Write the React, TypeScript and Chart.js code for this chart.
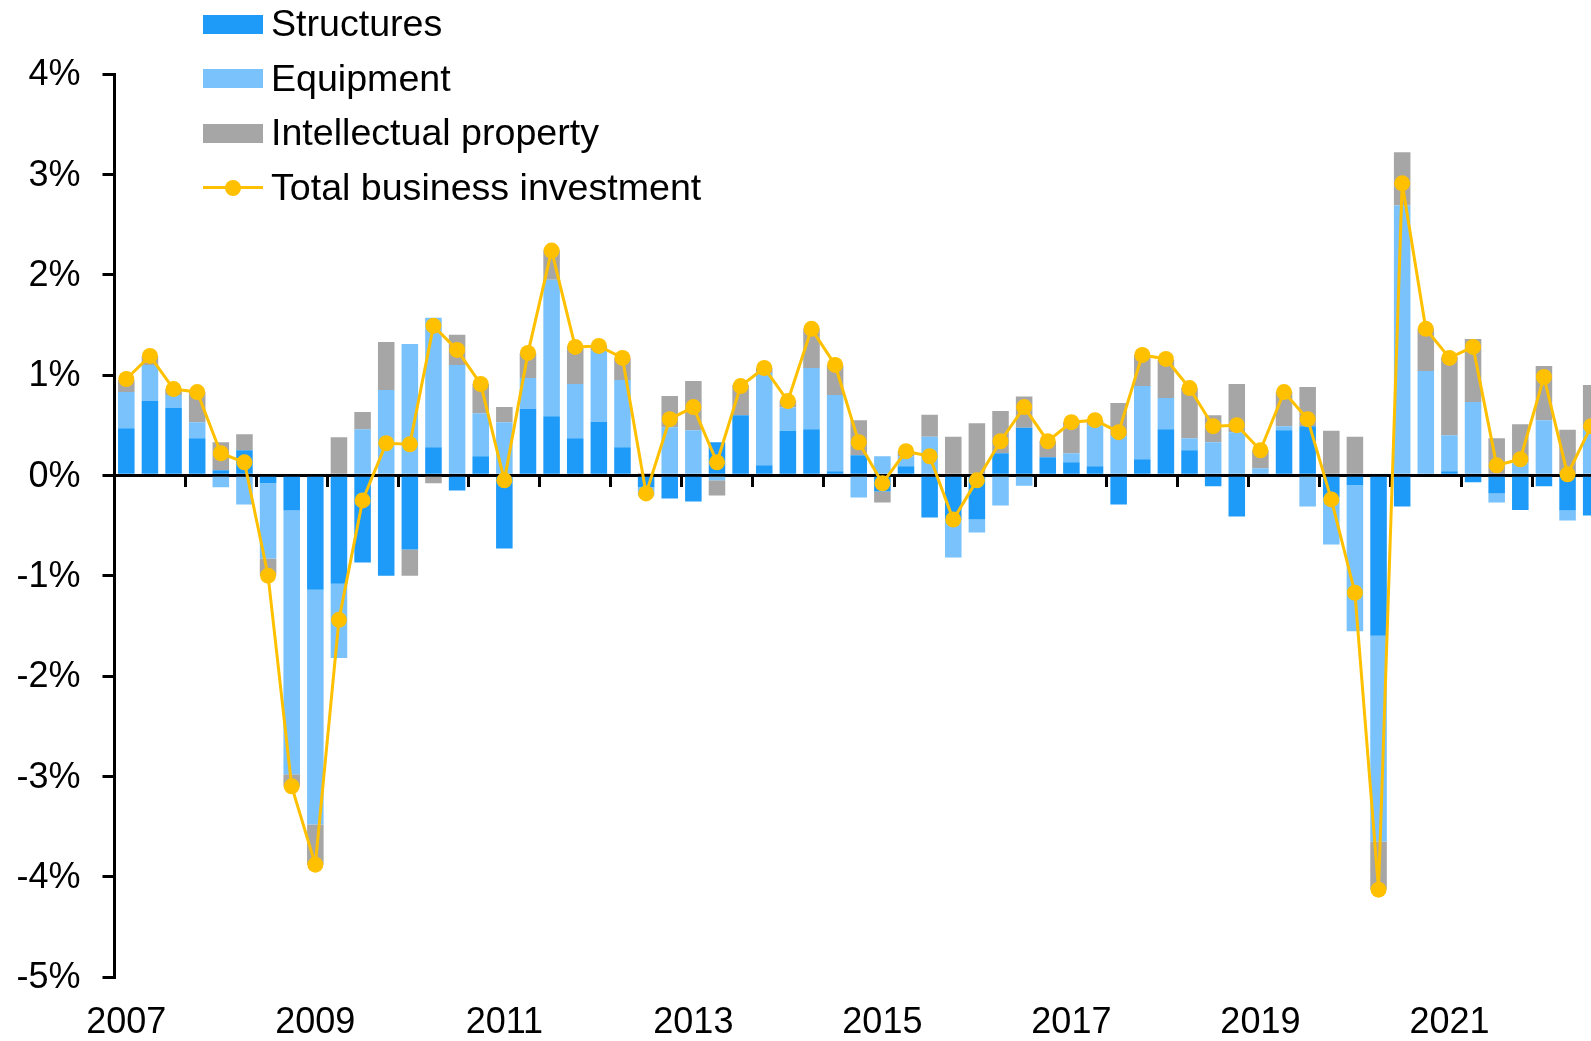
import React, { useEffect, useRef } from 'react';
import { Chart, registerables } from 'chart.js';

Chart.register(...registerables);

// ---- Data (quarter-on-quarter contributions, %) ----
const quarters = [
  '2007 Q1', '2007 Q2', '2007 Q3', '2007 Q4',
  '2008 Q1', '2008 Q2', '2008 Q3', '2008 Q4',
  '2009 Q1', '2009 Q2', '2009 Q3', '2009 Q4',
  '2010 Q1', '2010 Q2', '2010 Q3', '2010 Q4',
  '2011 Q1', '2011 Q2', '2011 Q3', '2011 Q4',
  '2012 Q1', '2012 Q2', '2012 Q3', '2012 Q4',
  '2013 Q1', '2013 Q2', '2013 Q3', '2013 Q4',
  '2014 Q1', '2014 Q2', '2014 Q3', '2014 Q4',
  '2015 Q1', '2015 Q2', '2015 Q3', '2015 Q4',
  '2016 Q1', '2016 Q2', '2016 Q3', '2016 Q4',
  '2017 Q1', '2017 Q2', '2017 Q3', '2017 Q4',
  '2018 Q1', '2018 Q2', '2018 Q3', '2018 Q4',
  '2019 Q1', '2019 Q2', '2019 Q3', '2019 Q4',
  '2020 Q1', '2020 Q2', '2020 Q3', '2020 Q4',
  '2021 Q1', '2021 Q2', '2021 Q3', '2021 Q4',
  '2022 Q1', '2022 Q2', '2022 Q3',
];

const yearTickLabels = ['2007', '2009', '2011', '2013', '2015', '2017', '2019', '2021'];

const structures = [
  0.47, 0.74, 0.67, 0.37,
  0.05, 0.25, -0.08, -0.35,
  -1.14, -1.08, -0.87, -1.0,
  -0.74, 0.28, -0.15, 0.19,
  -0.73, 0.66, 0.59, 0.37,
  0.535, 0.28, -0.12, -0.23,
  -0.26, 0.33, 0.6, 0.1,
  0.445, 0.46, 0.04, 0.2,
  -0.16, 0.09, -0.42, -0.44,
  -0.44, 0.22, 0.475, 0.18,
  0.13, 0.09, -0.29, 0.16,
  0.46, 0.25, -0.11, -0.41,
  0.0, 0.45, 0.49, -0.22,
  -0.1, -1.6, -0.31, 0.0,
  0.04, -0.07, -0.18, -0.345,
  -0.11, -0.35, -0.4,
];

const equipment = [
  0.36, 0.36, 0.13, 0.16,
  -0.12, -0.29, -0.75, -2.63,
  -2.34, -0.74, 0.46, 0.85,
  1.31, 1.29, 1.1, 0.43,
  0.53, 0.31, 1.36, 0.54,
  0.71, 0.67, -0.08, 0.48,
  0.45, -0.05, 0.0, 0.92,
  0.23, 0.61, 0.76, -0.22,
  0.19, 0.1, 0.385, -0.38,
  -0.13, -0.3, -0.105, 0.0,
  0.09, 0.41, 0.39, 0.73,
  0.31, 0.12, 0.33, 0.43,
  0.07, 0.04, -0.31, -0.47,
  -1.455, -2.05, 2.69, 1.04,
  0.36, 0.73, -0.09, 0.12,
  0.55, -0.1, 0.46,
];

const intellectualProperty = [
  0.12, 0.09, 0.06, 0.3,
  0.28, 0.16, -0.17, -0.12,
  -0.4, 0.38, 0.17, 0.48,
  -0.26, -0.08, 0.3, 0.29,
  0.15, 0.25, 0.29, 0.38,
  0.05, 0.22, 0.02, 0.31,
  0.49, -0.15, 0.3, 0.05,
  0.07, 0.39, 0.3, 0.35,
  -0.11, 0.05, 0.22, 0.385,
  0.52, 0.42, 0.31, 0.16,
  0.31, 0.05, 0.33, 0.31,
  0.38, 0.5, 0.27, 0.48,
  0.18, 0.34, 0.39, 0.445,
  0.385, -0.48, 0.53, 0.42,
  0.78, 0.63, 0.37, 0.39,
  0.54, 0.455, 0.44,
];

const totalInvestment = [
  0.96, 1.19, 0.86, 0.83,
  0.22, 0.13, -1.0, -3.1,
  -3.88, -1.44, -0.25, 0.32,
  0.31, 1.49, 1.25, 0.91,
  -0.05, 1.22, 2.24, 1.28,
  1.29, 1.17, -0.18, 0.56,
  0.68, 0.13, 0.89, 1.07,
  0.74, 1.46, 1.1, 0.33,
  -0.08, 0.24, 0.19, -0.44,
  -0.05, 0.34, 0.68, 0.34,
  0.53, 0.55, 0.43, 1.2,
  1.16, 0.87, 0.49, 0.5,
  0.25, 0.83, 0.56, -0.24,
  -1.17, -4.13, 2.91, 1.46,
  1.17, 1.28, 0.1, 0.16,
  0.98, 0.01, 0.49,
];

const seriesNames = ['Structures', 'Equipment', 'Intellectual property', 'Total business investment'];

// ---- Styles ----
const COLOR_STRUCTURES = '#1E9BF8';
const COLOR_EQUIPMENT = '#79C2FB';
const COLOR_IP = '#A6A6A6';
const COLOR_TOTAL = '#FFC000';
const FONT = "'Liberation Sans', Arial, sans-serif";

export default function App() {
  const canvasRef = useRef<HTMLCanvasElement>(null);

  useEffect(() => {
    const canvas = canvasRef.current;
    if (!canvas) return;
    Chart.defaults.font.family = FONT;
    Chart.defaults.color = '#000';

    const barCommon = {
      stack: 'parts',
      order: 1,
      categoryPercentage: 1,
      barPercentage: 0.7,
      borderWidth: 0,
      xAxisID: 'x',
      yAxisID: 'y',
    };

    const chart = new Chart(canvas, {
      type: 'bar',
      data: {
        labels: quarters,
        datasets: [
          {
            type: 'line',
            label: seriesNames[3],
            data: totalInvestment,
            borderColor: COLOR_TOTAL,
            backgroundColor: COLOR_TOTAL,
            borderWidth: 3,
            pointRadius: 8,
            pointHoverRadius: 8,
            pointBackgroundColor: COLOR_TOTAL,
            pointBorderWidth: 0,
            tension: 0,
            stack: 'total',
            order: 0,
            xAxisID: 'x',
            yAxisID: 'y',
          } as any,
          { ...barCommon, label: seriesNames[0], data: structures, backgroundColor: COLOR_STRUCTURES } as any,
          { ...barCommon, label: seriesNames[1], data: equipment, backgroundColor: COLOR_EQUIPMENT } as any,
          { ...barCommon, label: seriesNames[2], data: intellectualProperty, backgroundColor: COLOR_IP } as any,
        ],
      },
      options: {
        responsive: false,
        animation: false,
        layout: { padding: { top: 74, right: 17, bottom: 0, left: 0 } },
        plugins: {
          legend: { display: false },
          tooltip: { enabled: false },
        },
        scales: {
          x: {
            type: 'category',
            position: { y: 0 } as any,
            stacked: true,
            offset: true,
            grid: {
              offset: true,
              drawOnChartArea: false,
              drawTicks: true,
              tickLength: 10,
              lineWidth: 3,
              color: (ctx: any) =>
                ctx.index !== undefined && ctx.index > 0 && ctx.index % 3 === 0 ? '#000' : 'rgba(0,0,0,0)',
            },
            border: { display: true, color: '#000', width: 3 },
            ticks: { display: false },
          },
          x2: {
            type: 'category',
            position: 'bottom',
            offset: true,
            grid: { display: false, drawTicks: false },
            border: { display: false },
            ticks: {
              autoSkip: false,
              maxRotation: 0,
              minRotation: 0,
              padding: 24,
              color: '#000',
              font: { size: 36, family: FONT },
              callback: (_v: any, i: number) => (i % 8 === 0 ? yearTickLabels[i / 8] : ''),
            },
            afterFit: (s: any) => {
              s.height = 64;
            },
          },
          y: {
            type: 'linear',
            stacked: true,
            min: -5,
            max: 4,
            ticks: {
              stepSize: 1,
              padding: 22,
              labelOffset: 1.5,
              color: '#000',
              font: { size: 36, family: FONT },
              callback: (v: any) => `${v}%`,
            },
            grid: {
              drawOnChartArea: false,
              drawTicks: true,
              tickLength: 12,
              lineWidth: 3,
              color: '#000',
            },
            border: { display: true, color: '#000', width: 3 },
            afterFit: (s: any) => {
              s.width = 114.5;
            },
          },
        } as any,
      },
    });

    return () => chart.destroy();
  }, []);

  const swatchColors = [COLOR_STRUCTURES, COLOR_EQUIPMENT, COLOR_IP];

  return (
    <div
      style={{
        position: 'fixed',
        left: 0,
        top: 0,
        width: '100vw',
        height: '100vh',
        overflow: 'hidden',
        background: '#fff',
      }}
    >
      <canvas ref={canvasRef} width={1620} height={1041} style={{ display: 'block', width: 1620, height: 1041 }} />
      <div style={{ position: 'absolute', left: 203, top: -3.3, fontFamily: FONT, fontSize: 37.6, color: '#000' }}>
        {seriesNames.map((name, i) => (
          <div key={name} style={{ height: 54.6, display: 'flex', alignItems: 'center' }}>
            <div style={{ position: 'relative', width: 60, height: 19, marginRight: 8, flex: '0 0 auto' }}>
              {i < 3 ? (
                <div style={{ width: 60, height: 19, background: swatchColors[i] }} />
              ) : (
                <>
                  <div
                    style={{ position: 'absolute', left: 0, top: 8, width: 60, height: 3, background: COLOR_TOTAL }}
                  />
                  <div
                    style={{
                      position: 'absolute',
                      left: 22,
                      top: 1.5,
                      width: 16,
                      height: 16,
                      borderRadius: '50%',
                      background: COLOR_TOTAL,
                    }}
                  />
                </>
              )}
            </div>
            <span style={{ lineHeight: 1, whiteSpace: 'nowrap' }}>{name}</span>
          </div>
        ))}
      </div>
    </div>
  );
}
